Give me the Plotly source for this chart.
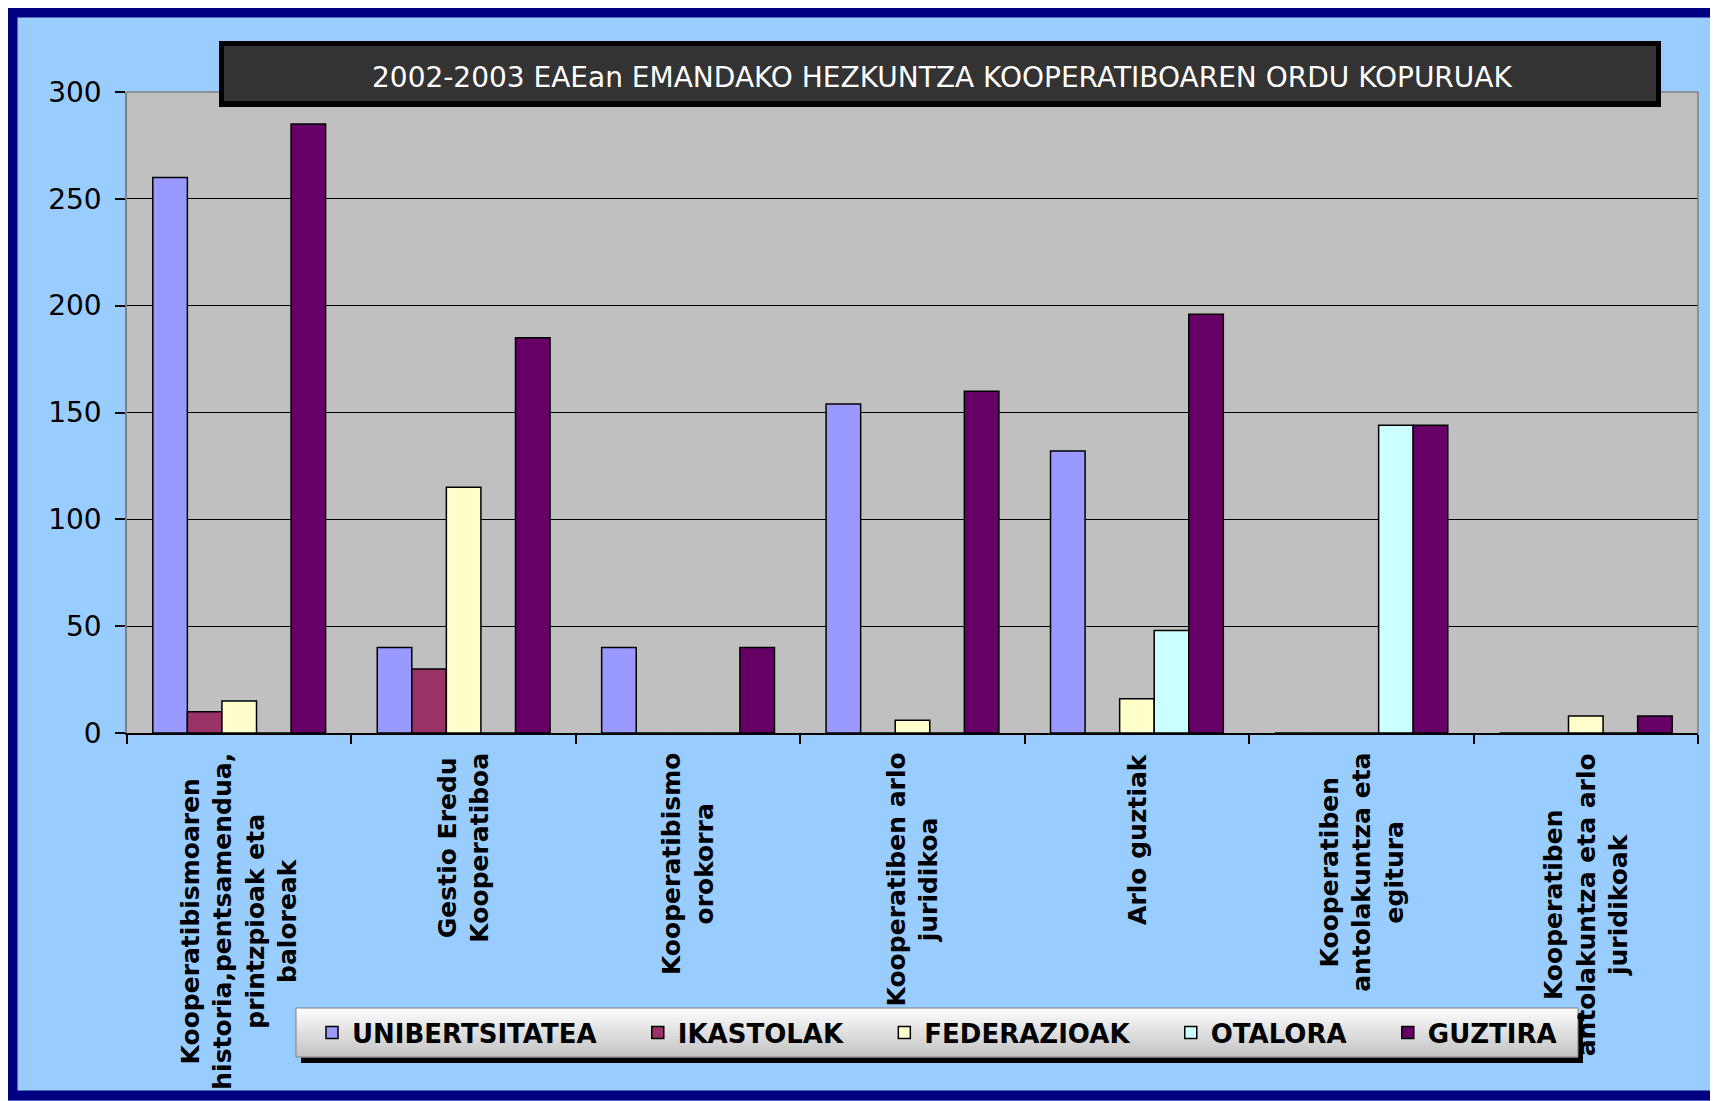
import plotly.graph_objects as go

# ---------------- data ----------------
categories = [
    "Kooperatibismoaren<br>historia,pentsamendua,<br>printzpioak eta<br>baloreak",
    "Gestio Eredu<br>Kooperatiboa",
    "Kooperatibismo<br>orokorra",
    "Kooperatiben arlo<br>juridikoa",
    "Arlo guztiak",
    "Kooperatiben<br>antolakuntza eta<br>egitura",
    "Kooperatiben<br>antolakuntza eta arlo<br>juridikoak",
]
series_names = ["UNIBERTSITATEA", "IKASTOLAK", "FEDERAZIOAK", "OTALORA", "GUZTIRA"]
unibertsitatea = [260, 40, 40, 154, 132, 0, 0]
ikastolak = [10, 30, 0, 0, 0, 0, 0]
federazioak = [15, 115, 0, 6, 16, 0, 8]
otalora = [0, 0, 0, 0, 48, 144, 0]
guztira = [285, 185, 40, 160, 196, 144, 8]
series_values = [unibertsitatea, ikastolak, federazioak, otalora, guztira]
series_colors = ["#9999FF", "#993366", "#FFFFCC", "#CCFFFF", "#660066"]
y_ticks = [0, 50, 100, 150, 200, 250, 300]
title_text = "2002-2003 EAEan EMANDAKO HEZKUNTZA KOOPERATIBOAREN ORDU KOPURUAK"

# ---------------- geometry (page coords, page has 8px body margin) ----------------
OFF = 8
W, H = 1718, 1101
L, R, T, B = 127 - OFF, 1698 - OFF, 92 - OFF, 733 - OFF


def px(x):
    return (x - OFF - L) / (R - L)


def py(y):
    return (B - (y - OFF)) / (B - T)


fig = go.Figure()
for name, vals, col in zip(series_names, series_values, series_colors):
    fig.add_trace(go.Bar(
        x=categories, y=vals, name=name + "\u00a0" * 4,
        marker=dict(color=col, line=dict(color="black", width=1.5)),
    ))

shapes = []
# navy frame
shapes.append(dict(type="rect", xref="paper", yref="paper", x0=px(12.5), y0=py(12.5), x1=px(1800), y1=py(1095.5),
                   line=dict(color="#000080", width=10), fillcolor="rgba(0,0,0,0)", layer="above"))
# plot border top/right (gray)
shapes.append(dict(type="line", xref="paper", yref="paper", x0=0, y0=1, x1=1, y1=1,
                   line=dict(color="#808080", width=1.5), layer="above"))
shapes.append(dict(type="line", xref="paper", yref="paper", x0=1, y0=0, x1=1, y1=1,
                   line=dict(color="#808080", width=1.5), layer="above"))
# title box
shapes.append(dict(type="rect", xref="paper", yref="paper", x0=px(219), y0=py(107), x1=px(1661), y1=py(41),
                   fillcolor="black", line=dict(width=0), layer="above"))
shapes.append(dict(type="rect", xref="paper", yref="paper", x0=px(224), y0=py(101), x1=px(1656), y1=py(46),
                   fillcolor="#333333", line=dict(width=0), layer="above"))
# legend box: shadow, gradient, border
lx0, lx1, ly0, ly1 = 296, 1578, 1008, 1057
shapes.append(dict(type="rect", xref="paper", yref="paper", x0=px(lx0 + 5), y0=py(ly1 + 6), x1=px(lx1 + 5), y1=py(ly0 + 5),
                   fillcolor="black", line=dict(width=0), layer="above"))
n_strips = 14
c_top, c_bot = 252, 196
for i in range(n_strips):
    ya = ly0 + (ly1 - ly0) * i / n_strips
    yb = ly0 + (ly1 - ly0) * (i + 1) / n_strips + 0.6
    c = int(round(c_top + (c_bot - c_top) * i / (n_strips - 1)))
    shapes.append(dict(type="rect", xref="paper", yref="paper", x0=px(lx0), y0=py(yb), x1=px(lx1), y1=py(ya),
                       fillcolor=f"rgb({c},{c},{c})", line=dict(width=0), layer="above"))
shapes.append(dict(type="rect", xref="paper", yref="paper", x0=px(lx0), y0=py(ly1), x1=px(lx1), y1=py(ly0),
                   fillcolor="rgba(0,0,0,0)", line=dict(color="#808080", width=1), layer="above"))

annotations = [dict(
    text=title_text, xref="paper", yref="paper", x=px(942), y=py(77),
    xanchor="center", yanchor="middle", showarrow=False,
    font=dict(family="DejaVu Sans", size=28, color="white"),
)]
for cat in categories:
    annotations.append(dict(
        text=cat, xref="x", yref="paper", x=cat, y=0, yshift=-18,
        xanchor="center", yanchor="top", textangle=-90, align="center", showarrow=False,
        font=dict(family="DejaVu Sans", size=25, color="black", weight="bold"),
    ))

fig.update_layout(
    width=W, height=H,
    margin=dict(l=L, r=W - R, t=T, b=H - B, pad=0),
    paper_bgcolor="#99CCFF", plot_bgcolor="#C0C0C0",
    barmode="group", bargap=0.23, bargroupgap=0,
    showlegend=True,
    legend=dict(
        orientation="h", x=px((lx0 + lx1) / 2 + 18), y=py((ly0 + ly1) / 2), xanchor="center", yanchor="middle",
        bgcolor="rgba(0,0,0,0)", borderwidth=0,
        font=dict(family="DejaVu Sans", size=26, color="black", weight="bold"),
        traceorder="normal",
    ),
    shapes=shapes, annotations=annotations,
    xaxis=dict(
        showticklabels=False, ticks="outside", tickson="boundaries", ticklen=9,
        tickcolor="black", tickwidth=1.5, showline=True, linecolor="black", linewidth=1.5,
        showgrid=False, zeroline=False,
    ),
    yaxis=dict(
        range=[0, 300], tickvals=y_ticks, ticktext=[str(v) for v in y_ticks],
        ticks="outside", ticklen=10, tickcolor="black", tickwidth=1.5,
        showline=True, linecolor="#808080", linewidth=1.5,
        showgrid=True, gridcolor="black", gridwidth=1.2, zeroline=False,
        tickfont=dict(family="DejaVu Sans", size=28, color="black"),
        ticklabelstandoff=8,
    ),
)

fig.write_html("out.html")
